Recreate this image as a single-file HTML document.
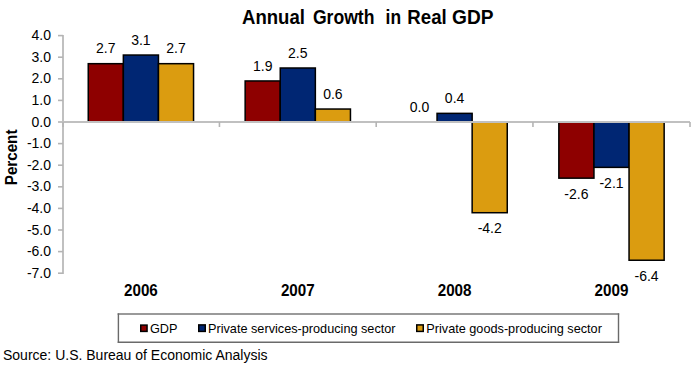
<!DOCTYPE html>
<html><head><meta charset="utf-8"><style>
html,body{margin:0;padding:0;background:#fff;width:700px;height:368px;overflow:hidden}
svg{position:absolute;left:0;top:0}
text{font-family:"Liberation Sans",sans-serif;fill:#000}
.yl{font-size:14px}
.dl{font-size:14px}
.cl{font-size:15.7px;font-weight:bold}
.tt{font-size:19.5px;font-weight:bold}
.lg{font-size:12.7px}
.src{font-size:14px}
</style></head><body>
<svg width="700" height="368" viewBox="0 0 700 368">
<text x="242" y="24" class="tt" textLength="62.9" lengthAdjust="spacingAndGlyphs">Annual</text>
<text x="312.9" y="24" class="tt" textLength="61.6" lengthAdjust="spacingAndGlyphs">Growth</text>
<text x="385.6" y="24" class="tt" textLength="15.5" lengthAdjust="spacingAndGlyphs">in</text>
<text x="407.3" y="24" class="tt" textLength="39.4" lengthAdjust="spacingAndGlyphs">Real</text>
<text x="452.1" y="24" class="tt" textLength="41.5" lengthAdjust="spacingAndGlyphs">GDP</text>
<text transform="translate(17.2,157.4) rotate(-90)" text-anchor="middle" class="cl" textLength="55.7" lengthAdjust="spacingAndGlyphs" style="font-size:16px">Percent</text>
<line x1="63" y1="35" x2="63" y2="274" stroke="#c0c0c0" stroke-width="2"/>
<line x1="58" y1="35.60" x2="63" y2="35.60" stroke="#b4b4b4" stroke-width="1.6"/>
<text x="51" y="40.20" text-anchor="end" class="yl">4.0</text>
<line x1="58" y1="57.20" x2="63" y2="57.20" stroke="#b4b4b4" stroke-width="1.6"/>
<text x="51" y="61.80" text-anchor="end" class="yl">3.0</text>
<line x1="58" y1="78.80" x2="63" y2="78.80" stroke="#b4b4b4" stroke-width="1.6"/>
<text x="51" y="83.40" text-anchor="end" class="yl">2.0</text>
<line x1="58" y1="100.40" x2="63" y2="100.40" stroke="#b4b4b4" stroke-width="1.6"/>
<text x="51" y="105.00" text-anchor="end" class="yl">1.0</text>
<line x1="58" y1="122.00" x2="63" y2="122.00" stroke="#b4b4b4" stroke-width="1.6"/>
<text x="51" y="126.60" text-anchor="end" class="yl">0.0</text>
<line x1="58" y1="143.60" x2="63" y2="143.60" stroke="#b4b4b4" stroke-width="1.6"/>
<text x="51" y="148.20" text-anchor="end" class="yl">-1.0</text>
<line x1="58" y1="165.20" x2="63" y2="165.20" stroke="#b4b4b4" stroke-width="1.6"/>
<text x="51" y="169.80" text-anchor="end" class="yl">-2.0</text>
<line x1="58" y1="186.80" x2="63" y2="186.80" stroke="#b4b4b4" stroke-width="1.6"/>
<text x="51" y="191.40" text-anchor="end" class="yl">-3.0</text>
<line x1="58" y1="208.40" x2="63" y2="208.40" stroke="#b4b4b4" stroke-width="1.6"/>
<text x="51" y="213.00" text-anchor="end" class="yl">-4.0</text>
<line x1="58" y1="230.00" x2="63" y2="230.00" stroke="#b4b4b4" stroke-width="1.6"/>
<text x="51" y="234.60" text-anchor="end" class="yl">-5.0</text>
<line x1="58" y1="251.60" x2="63" y2="251.60" stroke="#b4b4b4" stroke-width="1.6"/>
<text x="51" y="256.20" text-anchor="end" class="yl">-6.0</text>
<line x1="58" y1="273.20" x2="63" y2="273.20" stroke="#b4b4b4" stroke-width="1.6"/>
<text x="51" y="277.80" text-anchor="end" class="yl">-7.0</text>
<rect x="88.25" y="63.68" width="35.10" height="58.32" fill="#8E0000" stroke="#000" stroke-width="1.5"/>
<rect x="123.35" y="55.04" width="35.10" height="66.96" fill="#002673" stroke="#000" stroke-width="1.5"/>
<rect x="158.45" y="63.68" width="35.10" height="58.32" fill="#DB9C10" stroke="#000" stroke-width="1.5"/>
<rect x="245.15" y="80.96" width="35.10" height="41.04" fill="#8E0000" stroke="#000" stroke-width="1.5"/>
<rect x="280.25" y="68.00" width="35.10" height="54.00" fill="#002673" stroke="#000" stroke-width="1.5"/>
<rect x="315.35" y="109.04" width="35.10" height="12.96" fill="#DB9C10" stroke="#000" stroke-width="1.5"/>
<rect x="437.05" y="113.36" width="35.10" height="8.64" fill="#002673" stroke="#000" stroke-width="1.5"/>
<rect x="472.15" y="122.00" width="35.10" height="90.72" fill="#DB9C10" stroke="#000" stroke-width="1.5"/>
<rect x="558.85" y="122.00" width="35.10" height="56.16" fill="#8E0000" stroke="#000" stroke-width="1.5"/>
<rect x="593.95" y="122.00" width="35.10" height="45.36" fill="#002673" stroke="#000" stroke-width="1.5"/>
<rect x="629.05" y="122.00" width="35.10" height="138.24" fill="#DB9C10" stroke="#000" stroke-width="1.5"/>
<line x1="62" y1="122.0" x2="690" y2="122.0" stroke="#c0c0c0" stroke-width="2"/>
<line x1="63.00" y1="122.0" x2="63.00" y2="127" stroke="#b4b4b4" stroke-width="1.6"/>
<line x1="219.45" y1="122.0" x2="219.45" y2="127" stroke="#b4b4b4" stroke-width="1.6"/>
<line x1="376.20" y1="122.0" x2="376.20" y2="127" stroke="#b4b4b4" stroke-width="1.6"/>
<line x1="532.95" y1="122.0" x2="532.95" y2="127" stroke="#b4b4b4" stroke-width="1.6"/>
<line x1="690.00" y1="122.0" x2="690.00" y2="127" stroke="#b4b4b4" stroke-width="1.6"/>
<text x="105.80" y="53.38" text-anchor="middle" class="dl">2.7</text>
<text x="140.90" y="44.74" text-anchor="middle" class="dl">3.1</text>
<text x="176.00" y="53.38" text-anchor="middle" class="dl">2.7</text>
<text x="140.90" y="296" text-anchor="middle" class="cl" textLength="33.8" lengthAdjust="spacingAndGlyphs">2006</text>
<text x="262.70" y="70.66" text-anchor="middle" class="dl">1.9</text>
<text x="297.80" y="57.70" text-anchor="middle" class="dl">2.5</text>
<text x="332.90" y="98.74" text-anchor="middle" class="dl">0.6</text>
<text x="297.80" y="296" text-anchor="middle" class="cl" textLength="33.8" lengthAdjust="spacingAndGlyphs">2007</text>
<text x="419.50" y="111.70" text-anchor="middle" class="dl">0.0</text>
<text x="454.60" y="103.06" text-anchor="middle" class="dl">0.4</text>
<text x="489.70" y="233.42" text-anchor="middle" class="dl">-4.2</text>
<text x="454.60" y="296" text-anchor="middle" class="cl" textLength="33.8" lengthAdjust="spacingAndGlyphs">2008</text>
<text x="576.40" y="198.86" text-anchor="middle" class="dl">-2.6</text>
<text x="611.50" y="188.06" text-anchor="middle" class="dl">-2.1</text>
<text x="646.60" y="280.94" text-anchor="middle" class="dl">-6.4</text>
<text x="611.50" y="296" text-anchor="middle" class="cl" textLength="33.8" lengthAdjust="spacingAndGlyphs">2009</text>
<line x1="117.6" y1="314" x2="619.2" y2="314" stroke="#9a9a9a" stroke-width="1.8"/>
<line x1="118.4" y1="313.4" x2="118.4" y2="342.9" stroke="#6a6a6a" stroke-width="1.4"/>
<line x1="618.5" y1="313.4" x2="618.5" y2="342.9" stroke="#6a6a6a" stroke-width="1.4"/>
<line x1="117.7" y1="342.3" x2="619.2" y2="342.3" stroke="#6a6a6a" stroke-width="1.4"/>
<rect x="140.75" y="325.1" width="6.3" height="6.3" fill="#8E0000" stroke="#000" stroke-width="1.5"/>
<text x="150" y="332.5" class="lg">GDP</text>
<rect x="198.75" y="324.9" width="6.5" height="6.5" fill="#002673" stroke="#000" stroke-width="1.5"/>
<text x="208" y="332.5" class="lg">Private services-producing sector</text>
<rect x="416.75" y="324.9" width="6.5" height="6.5" fill="#DB9C10" stroke="#000" stroke-width="1.5"/>
<text x="426.3" y="332.5" class="lg">Private goods-producing sector</text>
<text x="3" y="360" class="src">Source: U.S. Bureau of Economic Analysis</text>
</svg>
</body></html>
